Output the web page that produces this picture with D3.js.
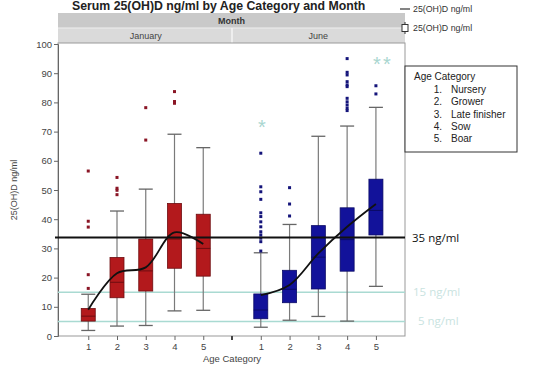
<!DOCTYPE html>
<html><head><meta charset="utf-8">
<script src="https://cdn.jsdelivr.net/npm/d3@7"></script>
<style>body{margin:0;background:#fff}svg{display:block;font-family:"Liberation Sans",Arial,sans-serif}</style>
</head><body><svg id="c" width="536" height="369"></svg>
<script>
// ---- data ----
const months = ["January", "June"];
const categories = [1, 2, 3, 4, 5];
const ageLabels = ["Nursery", "Grower", "Late finisher", "Sow", "Boar"];
const yTicks = [0, 10, 20, 30, 40, 50, 60, 70, 80, 90, 100];

const janLow    = [1.9, 3.4, 3.6, 8.6, 8.8];
const janQ1     = [5.1, 13.1, 15.4, 23.2, 20.5];
const janMedian = [6.8, 18.4, 22.3, 33.2, 30.0];
const janQ3     = [9.4, 26.9, 33.2, 45.4, 41.7];
const janHigh   = [14.3, 42.8, 50.3, 69.1, 64.5];
const janMean   = [9.0, 21.5, 23.5, 35.5, 31.5];
const janOutliers = [[56.5, 39.3, 37.3, 21.0, 16.3], [54.3, 50.6, 49.9, 48.4], [78.2, 67.1], [83.7, 80.3, 79.7], []];
const janExtremes = [[], [], [], [], []];

const junLow    = [3.0, 5.4, 6.7, 5.1, 17.0];
const junQ1     = [5.9, 11.4, 16.1, 22.2, 34.6];
const junMedian = [8.9, 16.0, 27.0, 33.0, 43.0];
const junQ3     = [14.4, 22.5, 37.8, 43.9, 53.7];
const junHigh   = [28.5, 38.2, 68.4, 71.9, 78.3];
const junMean   = [14.0, 17.5, 28.3, 37.4, 45.2];
const junOutliers = [[62.6, 51.1, 49.4, 46.8, 42.2, 40.9, 39.1, 37.4, 35.7, 34.6, 33.5, 32.3, 29.1], [50.8, 45.2, 41.1], [], [95.0, 90.3, 89.4, 87.1, 86.0, 85.4, 81.4, 80.2, 79.1, 78.0, 77.2], [85.7, 82.9]];
const junExtremes = [[72.3], [], [], [], [94.0, 94.0]];

const refLines = [33.7, 15, 5];
const refLabels = ["35 ng/ml", "15 ng/ml", "5 ng/ml"];

// ---- build ----
const svg = d3.select("#c");
const L = 58, R = 405, T = 44, B = 336, MID = 232;
const y = d3.scaleLinear().domain([0, 100]).range([B, T]);
const xs = [d3.scaleLinear().domain([0, 6]).range([59.5, MID]),
            d3.scaleLinear().domain([0, 6]).range([MID, 404.7])];

const panels = [
  {low: janLow, q1: janQ1, med: janMedian, q3: janQ3, high: janHigh, mean: janMean, out: janOutliers, ext: janExtremes,
   fill: "#b3191c", stroke: "#6e0d10", medC: "#6e0d10", dot: "#8a1525"},
  {low: junLow, q1: junQ1, med: junMedian, q3: junQ3, high: junHigh, mean: junMean, out: junOutliers, ext: junExtremes,
   fill: "#12129a", stroke: "#0a0a66", medC: "#0a0a66", dot: "#14147a"}
];

// title
svg.append("text").attr("x", 72).attr("y", 10).attr("font-size", 12.3).attr("font-weight", "bold")
  .attr("fill", "#222").text("Serum 25(OH)D ng/ml by Age Category and Month");

// header bands
svg.append("rect").attr("x", L).attr("y", 13).attr("width", R - L).attr("height", 15).attr("fill", "#c9c9c9");
svg.append("rect").attr("x", L).attr("y", 28).attr("width", R - L).attr("height", 15).attr("fill", "#dadada");
svg.append("line").attr("x1", L).attr("x2", R).attr("y1", 28).attr("y2", 28).attr("stroke", "#eee");
svg.append("line").attr("x1", MID).attr("x2", MID).attr("y1", 28).attr("y2", 43).attr("stroke", "#f4f4f4").attr("stroke-width", 1.5);
svg.append("text").attr("x", (L + R) / 2).attr("y", 24).attr("text-anchor", "middle").attr("font-size", 9)
  .attr("font-weight", "bold").attr("fill", "#333").text("Month");
months.forEach((m, i) => {
  const cx = (xs[i].range()[0] + xs[i].range()[1]) / 2;
  svg.append("text").attr("x", cx).attr("y", 39).attr("text-anchor", "middle").attr("font-size", 9)
    .attr("fill", "#444").text(m);
});

// plot frame
svg.append("rect").attr("x", L).attr("y", 43).attr("width", R - L).attr("height", B - 43)
  .attr("fill", "none").attr("stroke", "#999");

// y axis
const yAxis = svg.append("g").attr("transform", `translate(${L},0)`)
  .call(d3.axisLeft(y).tickValues(yTicks).tickSize(4).tickPadding(2));
yAxis.select(".domain").attr("stroke", "#666");
yAxis.selectAll(".tick line").attr("stroke", "#666");
yAxis.selectAll("text").attr("font-size", 9.5).attr("fill", "#444").attr("font-family", "Liberation Sans, Arial, sans-serif");

svg.append("text").attr("transform", `translate(17,${(T + B) / 2}) rotate(-90)`).attr("text-anchor", "middle")
  .attr("font-size", 9).attr("fill", "#444").text("25(OH)D ng/ml");

// x axes
xs.forEach((x, i) => {
  const g = svg.append("g").attr("transform", `translate(0,${B})`)
    .call(d3.axisBottom(x).tickValues(categories).tickSize(4).tickPadding(3).tickFormat(d3.format("d")));
  g.select(".domain").remove();
  g.selectAll(".tick line").attr("stroke", "#666");
  g.selectAll("text").attr("font-size", 9.5).attr("fill", "#444").attr("font-family", "Liberation Sans, Arial, sans-serif");
});
svg.append("line").attr("x1", MID).attr("x2", MID).attr("y1", B).attr("y2", B + 4).attr("stroke", "#444").attr("stroke-width", 2);
svg.append("text").attr("x", MID).attr("y", 362).attr("text-anchor", "middle").attr("font-size", 9.5)
  .attr("fill", "#444").text("Age Category");

// reference lines (teal under boxes)
const refColors = ["#111", "#a9dad2", "#a9dad2"];
[1, 2].forEach(k => {
  svg.append("line").attr("x1", L).attr("x2", R).attr("y1", y(refLines[k])).attr("y2", y(refLines[k]))
    .attr("stroke", refColors[k]).attr("stroke-width", 1.5);
});

// boxes
const bw = 14;
panels.forEach((p, i) => {
  const x = xs[i];
  const g = svg.append("g");
  categories.forEach((c, j) => {
    const cx = x(c);
    g.append("line").attr("x1", cx).attr("x2", cx).attr("y1", y(p.low[j])).attr("y2", y(p.high[j]))
      .attr("stroke", "#7a7a7a").attr("stroke-width", 1.2);
    [p.low[j], p.high[j]].forEach(v => {
      g.append("line").attr("x1", cx - bw / 2).attr("x2", cx + bw / 2).attr("y1", y(v)).attr("y2", y(v))
        .attr("stroke", "#666").attr("stroke-width", 1.3);
    });
    g.append("rect").attr("x", cx - bw / 2).attr("y", y(p.q3[j])).attr("width", bw)
      .attr("height", y(p.q1[j]) - y(p.q3[j])).attr("fill", p.fill).attr("stroke", p.stroke).attr("stroke-width", 0.8);
    g.append("line").attr("x1", cx - bw / 2).attr("x2", cx + bw / 2).attr("y1", y(p.med[j])).attr("y2", y(p.med[j]))
      .attr("stroke", p.medC).attr("stroke-width", 1);
    p.out[j].forEach(v => {
      g.append("rect").attr("x", cx - 1.5).attr("y", y(v) - 1.5).attr("width", 3).attr("height", 3).attr("fill", p.dot);
    });
    p.ext[j].forEach((v, k) => {
      g.append("text").attr("x", cx + 1 + k * 10).attr("y", y(v) + 9).attr("text-anchor", "middle")
        .attr("font-size", 20).attr("fill", "#a9d6d0").text("*");
    });
  });
});

// 35 line on top
svg.append("line").attr("x1", 55).attr("x2", R).attr("y1", y(refLines[0])).attr("y2", y(refLines[0]))
  .attr("stroke", "#111").attr("stroke-width", 2);

// mean curves
panels.forEach((p, i) => {
  const x = xs[i];
  const line = d3.line().x((d, j) => x(categories[j])).y(d => y(d)).curve(d3.curveCatmullRom.alpha(0.5));
  svg.append("path").attr("d", line(p.mean)).attr("fill", "none").attr("stroke", "#111").attr("stroke-width", 1.8);
});

// ref labels
const refLabelX = [412, 413, 418];
const refTextColors = ["#111", "#c9e3df", "#c9e3df"];
refLines.forEach((v, k) => {
  svg.append("text").attr("x", refLabelX[k]).attr("y", y(v) + 4).attr("font-size", 11.5)
    .attr("font-family", "Open Sans, sans-serif").attr("fill", refTextColors[k]).text(refLabels[k]);
});

// top-right legend
svg.append("line").attr("x1", 400).attr("x2", 410).attr("y1", 9).attr("y2", 9).attr("stroke", "#333").attr("stroke-width", 1.2);
svg.append("text").attr("x", 413).attr("y", 12).attr("font-size", 8.8).attr("fill", "#333").text("25(OH)D ng/ml");
svg.append("line").attr("x1", 405).attr("x2", 405).attr("y1", 22).attr("y2", 34).attr("stroke", "#333");
svg.append("rect").attr("x", 402).attr("y", 24.5).attr("width", 6).attr("height", 7).attr("fill", "#fff").attr("stroke", "#333");
svg.append("text").attr("x", 413).attr("y", 31).attr("font-size", 8.8).attr("fill", "#333").text("25(OH)D ng/ml");

// age category box
svg.append("rect").attr("x", 405).attr("y", 66).attr("width", 112).attr("height", 86).attr("fill", "#fff")
  .attr("stroke", "#333");
svg.append("text").attr("x", 414).attr("y", 80).attr("font-size", 10).attr("fill", "#222").text("Age Category");
ageLabels.forEach((a, j) => {
  const yy = 93 + j * 12.3;
  svg.append("text").attr("x", 442).attr("y", yy).attr("text-anchor", "end").attr("font-size", 10).attr("fill", "#222").text(categories[j] + ".");
  svg.append("text").attr("x", 451).attr("y", yy).attr("font-size", 10).attr("fill", "#222").text(a);
});
</script></body></html>
